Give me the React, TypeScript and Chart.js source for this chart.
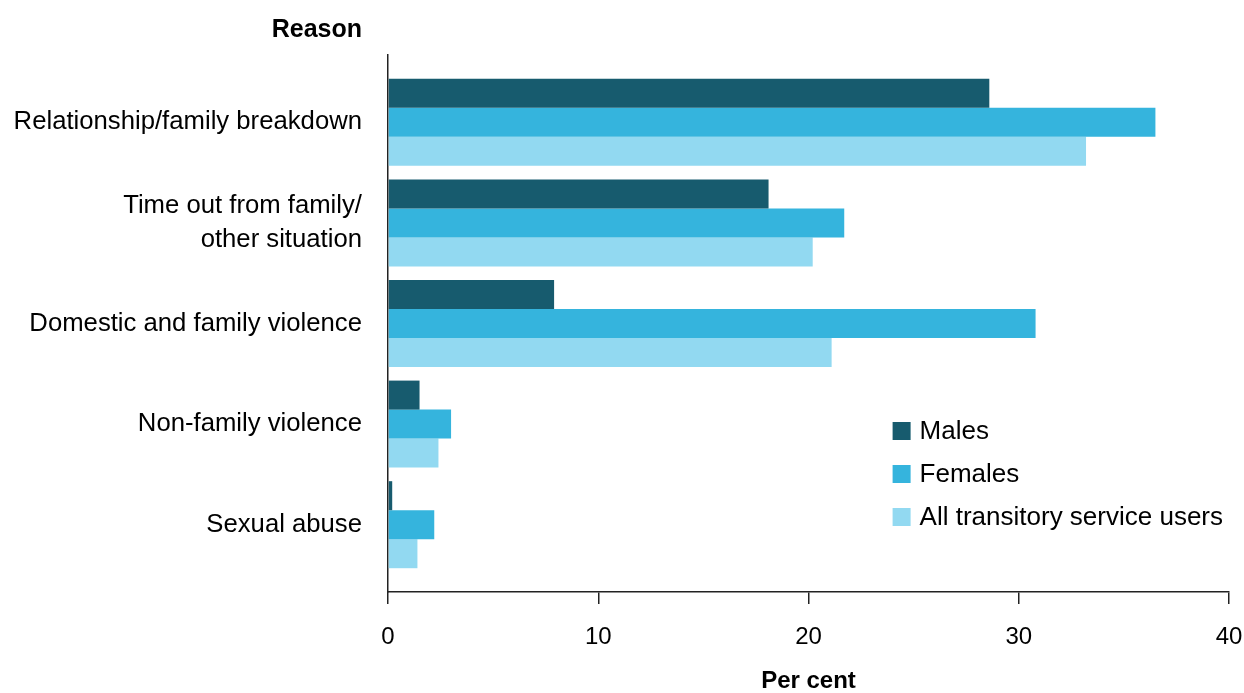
import React, { useEffect, useRef } from "react";
import { Chart, registerables } from "chart.js";

Chart.register(...registerables);

const categories: (string | string[])[] = [
  "Relationship/family breakdown",
  ["Time out from family/", "other situation"],
  "Domestic and family violence",
  "Non-family violence",
  "Sexual abuse",
];
const seriesNames = ["Males", "Females", "All transitory service users"];
const males = [28.6, 18.1, 7.9, 1.5, 0.2];
const females = [36.5, 21.7, 30.8, 3.0, 2.2];
const allUsers = [33.2, 20.2, 21.1, 2.4, 1.4];
const xTicks = [0, 10, 20, 30, 40];
const colors = ["#175B6E", "#35B4DD", "#92D9F1"];

const FONT = "'Liberation Sans', Arial, sans-serif";

const overlayPlugin = {
  id: "overlay",
  afterDraw(chart: any) {
    const { ctx, chartArea } = chart;
    const xScale = chart.scales.x;
    ctx.save();
    ctx.fillStyle = "#000";
    ctx.font = `bold 25px ${FONT}`;
    ctx.textAlign = "right";
    ctx.textBaseline = "middle";
    ctx.fillText("Reason", chartArea.left - 26, 30);
    const left = xScale.getPixelForValue(24);
    const startY = chartArea.top + 376;
    const step = 43;
    ctx.font = `26px ${FONT}`;
    ctx.textAlign = "left";
    chart.data.datasets.forEach((ds: any, i: number) => {
      const cy = startY + i * step;
      ctx.fillStyle = ds.backgroundColor;
      ctx.fillRect(left, cy - 9, 18, 18);
      ctx.fillStyle = "#000";
      ctx.fillText(ds.label, left + 27, cy + 1);
    });
    ctx.restore();
  },
};

export default function App() {
  const ref = useRef<HTMLCanvasElement | null>(null);
  useEffect(() => {
    if (!ref.current) return;
    const series = [males, females, allUsers];
    const chart = new Chart(ref.current, {
      type: "bar",
      data: {
        datasets: series.map((vals, si) => ({
          label: seriesNames[si],
          data: vals.map((v, i) => ({ x: v, y: i })),
          backgroundColor: colors[si],
          borderWidth: 0,
          categoryPercentage: 0.865,
          barPercentage: 1,
        })),
      },
      options: {
        indexAxis: "y",
        responsive: false,
        animation: false,
        devicePixelRatio: 1,
        layout: { padding: { top: 55, right: 15, bottom: 0, left: 0 } },
        plugins: { legend: { display: false }, tooltip: { enabled: false } },
        scales: {
          x: {
            type: "linear",
            min: 0,
            max: 40,
            afterBuildTicks: (s: any) => {
              s.ticks = xTicks.map((v) => ({ value: v }));
            },
            afterFit: (s: any) => {
              s.height = 101;
              s.paddingLeft = 0;
              s.paddingRight = 0;
            },
            grid: {
              display: true,
              drawOnChartArea: false,
              drawTicks: true,
              tickLength: 12,
              color: "#222",
              lineWidth: 1.5,
            },
            border: { display: true, color: "#222", width: 1.5 },
            ticks: {
              color: "#000",
              padding: 19,
              font: { family: FONT, size: 24 },
              maxRotation: 0,
            },
            title: {
              display: true,
              text: "Per cent",
              color: "#000",
              font: { family: FONT, size: 24, weight: "bold", lineHeight: 1 },
              padding: { top: 0, bottom: 0 },
            },
          },
          y: {
            type: "linear",
            reverse: true,
            offset: false,
            min: -0.669,
            max: 4.669,
            afterBuildTicks: (s: any) => {
              s.ticks = categories.map((_, i) => ({ value: i }));
            },
            afterFit: (s: any) => {
              s.width = 388;
            },
            grid: { display: false, drawTicks: false },
            border: { display: true, color: "#222", width: 1.5 },
            ticks: {
              autoSkip: false,
              color: "#000",
              padding: 26,
              font: { family: FONT, size: 25.7, lineHeight: 1.32 },
              callback: (value: any) => categories[value as number],
            },
          },
        },
      },
      plugins: [overlayPlugin],
    } as any);
    return () => chart.destroy();
  }, []);
  return (
    <div style={{ position: "absolute", left: 0, top: 0, width: 1244, height: 693, background: "#fff" }}>
      <canvas ref={ref} width={1244} height={693} style={{ width: 1244, height: 693 }} />
    </div>
  );
}
